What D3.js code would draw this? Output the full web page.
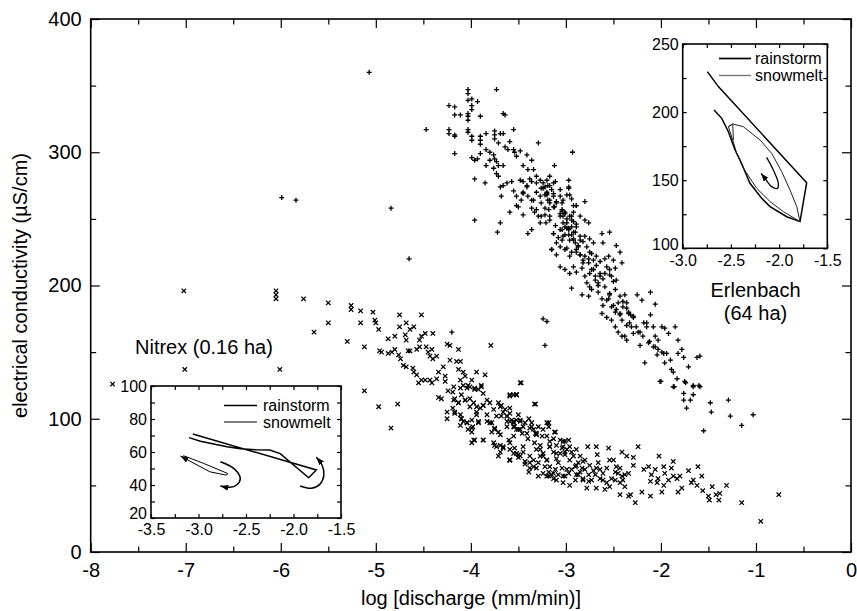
<!DOCTYPE html>
<html>
<head>
<meta charset="utf-8">
<script src="https://cdn.jsdelivr.net/npm/d3@7"></script>
<style>
  body { margin: 0; background: #fff; }
  text { font-family: "Liberation Sans", Arial, Helvetica, sans-serif; fill: #000; }
</style>
</head>
<body>
<svg id="chart" width="857" height="611"></svg>
<script>
// ---- data (log discharge [mm/min], electrical conductivity [uS/cm]) ----

// Erlenbach (64 ha), "+" markers
var erlenbachPts = [
  [-4.03,347],[-4.03,344],[-3.99,340],[-4.03,339],[-3.93,338],[-3.99,335],[-3.99,332],[-3.73,347],[-4.23,335],[-4.17,334],
  [-4.17,328],[-4.11,328],[-4.03,329],[-4.03,327],[-4.03,324],[-3.90,327],[-3.66,329],[-3.64,328],[-4.47,317],[-4.23,317],
  [-4.23,314],[-4.17,313],[-4.17,312],[-4.03,317],[-4.03,315],[-3.99,312],[-3.99,309],[-3.90,312],[-3.90,309],[-3.90,306],
  [-3.84,314],[-3.75,316],[-3.75,313],[-3.69,314],[-3.66,314],[-3.55,317],[-3.75,310],[-3.71,307],[-4.17,299],[-3.99,296],
  [-3.96,294],[-3.93,295],[-3.90,299],[-3.84,302],[-3.80,300],[-3.76,298],[-3.75,295],[-3.73,293],[-3.71,290],[-3.80,294],
  [-3.84,290],[-3.76,288],[-3.73,284],[-3.71,282],[-3.66,290],[-3.64,304],[-3.61,302],[-3.59,308],[-3.55,302],[-3.54,300],
  [-3.52,297],[-3.48,301],[-3.41,298],[-3.36,294],[-3.45,290],[-3.40,287],[-3.34,287],[-3.29,307],[-3.96,280],[-3.85,277],
  [-3.69,274],[-3.66,275],[-3.62,277],[-3.57,278],[-3.68,267],[-3.55,271],[-3.52,267],[-3.48,279],[-3.45,278],[-3.41,275],
  [-3.38,280],[-3.31,277],[-3.27,279],[-3.26,273],[-3.22,274],[-3.19,275],[-3.17,282],[-3.13,277],[-3.12,290],[-3.20,268],
  [-3.17,264],[-3.27,267],[-3.22,268],[-3.34,264],[-3.45,269],[-3.40,267],[-3.52,260],[-3.50,259],[-3.59,255],[-3.45,253],
  [-3.36,258],[-3.31,257],[-3.29,252],[-3.27,247],[-3.21,247],[-3.17,262],[-3.12,259],[-3.06,267],[-3.04,262],[-2.97,279],
  [-2.97,273],[-2.96,268],[-2.92,260],[-2.89,260],[-3.04,256],[-3.03,252],[-2.99,250],[-2.94,252],[-2.92,248],[-2.89,246],
  [-3.01,244],[-2.97,242],[-2.94,238],[-3.03,237],[-3.04,242],[-2.92,234],[-2.87,230],[-3.10,232],[-3.13,239],[-3.36,242],
  [-3.40,239],[-3.69,247],[-3.72,240],[-3.96,249],[-2.93,300],[-4.84,258],[-4.65,220],[-3.15,227],[-3.01,227],[-2.96,222],
  [-2.89,225],
  [-3.24,277],[-3.17,275],[-3.11,278],[-3.20,270],[-3.13,269],[-3.06,272],[-2.99,268],[-2.97,274],[-3.03,264],[-2.94,265],
  [-2.89,260],[-2.80,263],[-3.10,262],[-3.18,257],[-3.22,253],[-3.17,249],[-3.06,254],[-3.01,255],[-2.96,252],[-2.92,255],
  [-2.85,252],[-2.80,249],[-2.76,247],[-3.03,247],[-2.99,243],[-2.94,244],[-2.90,240],[-3.13,239],[-3.08,236],[-3.04,234],
  [-2.97,238],[-2.92,235],[-2.85,234],[-2.80,237],[-2.75,235],[-2.71,232],[-2.62,239],[-2.54,240],[-2.61,232],[-3.15,227],
  [-3.10,223],[-3.06,229],[-2.99,228],[-2.94,225],[-2.89,227],[-2.85,223],[-2.82,219],[-2.76,220],[-2.73,224],[-2.68,222],
  [-2.64,218],[-2.59,220],[-2.55,222],[-2.50,219],[-2.47,230],[-2.43,225],[-2.41,217],[-3.06,214],[-3.01,212],[-2.96,209],
  [-2.92,214],[-2.89,210],[-2.83,213],[-2.80,207],[-2.75,209],[-2.71,212],[-2.69,204],[-2.66,202],[-2.64,207],[-2.59,209],
  [-2.54,212],[-2.52,207],[-2.48,213],[-2.47,204],[-2.78,202],[-2.75,199],[-2.73,197],[-2.83,193],[-2.94,198],[-2.76,192],
  [-2.66,195],[-2.62,190],[-2.61,185],[-2.57,189],[-2.54,193],[-2.52,184],[-2.48,180],[-2.45,187],[-2.43,179],[-2.40,184],
  [-2.36,187],[-2.34,180],[-2.32,178],[-2.29,176],[-2.38,193],[-2.25,193],[-2.20,189],[-2.11,195],[-2.06,186],[-2.62,179],
  [-2.57,176],[-2.52,174],[-2.48,169],[-2.45,165],[-2.41,162],[-2.38,162],[-2.36,159],[-2.31,169],[-2.29,164],[-2.24,165],
  [-2.18,172],[-2.15,172],[-2.11,178],[-2.08,169],[-2.06,162],[-2.22,155],[-2.13,157],[-2.06,154],[-2.03,159],[-1.99,169],
  [-1.96,168],[-1.92,164],[-1.85,169],[-1.82,159],[-2.04,148],[-1.99,150],[-1.94,149],[-1.96,142],[-1.90,144],[-1.89,137],
  [-1.87,135],[-1.82,149],[-1.78,152],[-1.76,146],[-1.71,139],[-1.62,146],[-1.59,147],[-2.17,142],[-2.01,128],[-1.87,124],
  [-1.83,130],[-1.75,128],[-1.66,124],[-1.59,124],[-1.76,119],[-1.76,114],[-1.73,108],[-1.69,114],[-1.66,118],[-1.48,112],
  [-1.47,105],[-1.29,114],[-1.27,102],[-3.24,175],[-3.20,173],[-3.22,155],
  [-2.00,128],[-1.86,124],[-1.74,127],[-1.66,125],[-1.60,125],[-1.15,95],[-1.03,103],[-1.55,91],
  [-5.07,360],[-5.99,266],[-5.84,264],[-4.20,165],
  [-3.31,270],[-3.24,273],[-3.20,269],[-3.15,272],[-3.13,267],[-3.19,264],[-3.26,262],[-3.22,258],[-3.13,259],[-3.10,263],
  [-3.04,257],[-3.01,254],[-3.06,252],[-2.99,247],[-2.94,249],[-2.97,243],[-2.92,240],[-2.89,244],[-2.85,237],[-2.82,233],
  [-2.87,229],[-2.78,229],[-2.75,225],[-2.80,222],[-2.71,219],[-2.68,215],[-2.73,212],[-2.64,209],[-2.61,205],[-2.57,214],
  [-2.54,208],[-2.50,203],[-2.48,197],[-2.54,194],[-2.43,192],[-2.40,188],[-2.36,183],[-2.34,179],[-2.29,177],[-2.33,172],
  [-2.26,169],[-2.22,165],[-2.19,162],[-2.15,169],[-2.12,158],[-2.08,154],[-2.03,152],[-1.97,149],[-3.20,279],[-3.31,282],
  [-3.36,278],[-3.41,274],[-3.45,270],[-3.47,264],[-3.36,264],[-3.33,255],[-3.26,252],[-3.17,252],[-3.11,245],[-3.06,242],
  [-3.01,238],[-2.96,234],[-2.90,232],[-2.85,223],[-2.82,217],[-2.76,217],[-2.69,207],[-2.66,200],[-2.59,199],[-2.55,190],
  [-2.50,185],[-2.47,182],[-2.43,178],[-2.41,174],[-2.36,170]
];

// Nitrex (0.16 ha), "x" markers
var nitrexPts = [
  [-5.76,190],[-5.50,187],[-5.50,172],[-5.65,165],[-5.26,185],[-5.26,182],[-5.16,181],[-5.03,180],[-5.16,172],[-5.01,174],
  [-5.00,172],[-4.97,167],[-4.75,178],[-4.52,178],[-5.30,158],[-5.12,154],[-4.75,169],[-4.68,172],[-4.64,167],[-4.60,169],
  [-4.69,163],[-4.68,159],[-4.87,160],[-4.80,162],[-4.96,151],[-4.94,150],[-4.87,149],[-4.83,150],[-4.80,152],[-4.76,148],
  [-4.74,145],[-4.66,151],[-4.64,151],[-4.57,152],[-4.54,159],[-4.52,162],[-4.48,164],[-4.40,164],[-4.54,154],[-4.47,154],
  [-4.45,150],[-4.43,147],[-4.40,145],[-4.36,147],[-4.41,152],[-4.25,156],[-4.22,155],[-4.13,152],[-3.79,155],[-4.71,140],
  [-4.68,139],[-4.61,138],[-4.60,135],[-4.57,133],[-4.52,129],[-4.55,127],[-4.48,129],[-4.43,129],[-4.41,127],[-4.36,130],
  [-4.34,135],[-4.29,139],[-4.27,132],[-4.27,128],[-4.22,144],[-4.15,143],[-4.11,143],[-4.13,137],[-4.08,135],[-4.06,132],
  [-3.99,129],[-3.94,135],[-3.85,133],[-4.11,129],[-4.08,125],[-4.04,123],[-4.01,124],[-3.96,123],[-3.92,122],[-3.89,125],
  [-3.87,119],[-4.34,116],[-4.31,115],[-4.24,121],[-4.19,120],[-4.17,115],[-4.13,112],[-4.10,118],[-4.06,114],[-4.01,115],
  [-3.97,112],[-3.94,109],[-3.90,108],[-3.87,110],[-3.83,114],[-3.80,112],[-3.76,107],[-4.19,108],[-4.17,105],[-4.25,105],
  [-4.25,100],[-4.11,103],[-4.10,100],[-4.08,98],[-4.04,97],[-3.99,99],[-3.98,94],[-3.94,103],[-3.92,97],[-3.83,98],
  [-3.78,97],[-3.75,93],[-3.73,102],[-3.69,109],[-3.66,105],[-3.62,102],[-3.59,108],[-3.55,118],[-3.52,118],[-3.59,98],
  [-3.55,94],[-3.52,99],[-3.50,92],[-3.71,90],[-3.78,90],[-3.99,90],[-3.96,84],[-3.87,84],[-3.76,82],[-3.73,79],
  [-3.69,80],[-3.66,78],[-3.59,77],[-3.55,74],[-3.50,73],[-3.71,72],[-3.59,69],[-3.99,82],[-5.12,121],[-4.97,109],
  [-4.77,111],[-4.84,93],
  [-3.47,127],[-3.59,117],[-3.52,118],[-3.32,111],[-3.68,110],[-3.64,107],[-3.59,104],[-3.68,102],[-3.62,98],[-3.55,97],
  [-3.50,103],[-3.43,97],[-3.38,93],[-3.48,92],[-3.41,89],[-3.34,92],[-3.31,88],[-3.25,87],[-3.20,97],[-3.18,94],
  [-3.11,90],[-3.06,84],[-3.03,83],[-2.97,84],[-3.66,79],[-3.59,82],[-3.59,69],[-3.52,74],[-3.45,79],[-3.43,68],
  [-3.38,72],[-3.39,60],[-3.34,64],[-3.31,77],[-3.27,80],[-3.24,74],[-3.20,69],[-3.17,79],[-3.13,75],[-3.10,70],
  [-3.06,74],[-3.03,79],[-2.99,77],[-2.94,75],[-2.89,77],[-2.85,72],[-2.82,68],[-2.77,79],[-2.68,79],[-2.67,73],
  [-2.55,78],[-2.41,75],[-2.36,72],[-2.29,71],[-2.24,79],[-2.02,72],[-1.87,68],[-3.24,59],[-3.29,57],[-3.18,57],
  [-3.13,55],[-3.08,58],[-3.03,52],[-2.96,50],[-2.90,54],[-2.85,60],[-2.80,62],[-2.76,58],[-2.73,54],[-2.68,63],
  [-2.64,62],[-2.61,59],[-2.57,63],[-2.54,69],[-2.50,69],[-2.47,64],[-2.45,59],[-2.41,57],[-2.38,58],[-2.34,59],
  [-2.29,65],[-2.78,48],[-2.68,48],[-2.59,47],[-2.54,49],[-2.48,54],[-2.43,52],[-2.38,49],[-2.43,43],[-2.34,42],
  [-2.32,43],[-2.27,37],[-2.20,45],[-2.18,62],[-2.13,64],[-2.10,58],[-2.06,62],[-2.03,55],[-1.97,64],[-1.96,59],
  [-1.92,54],[-1.89,63],[-1.87,57],[-1.83,55],[-1.80,57],[-1.78,48],[-1.82,45],[-1.97,50],[-1.99,45],[-2.11,53],
  [-2.11,42],[-2.04,52],[-1.71,61],[-1.68,52],[-1.66,54],[-1.61,64],[-1.57,57],[-1.56,46],[-1.50,42],[-1.49,39],
  [-1.46,49],[-1.42,43],[-1.38,44],[-1.39,39],[-1.31,50],[-1.15,37],[-0.95,23],[-0.76,43],[-1.62,50],
  [-4.18,124],[-4.11,123],[-4.03,125],[-3.96,122],[-3.89,124],[-4.18,114],[-4.13,112],[-4.06,114],[-4.01,109],[-3.94,105],
  [-3.87,110],[-4.17,104],[-4.10,100],[-4.04,97],[-3.99,93],[-3.92,98],[-3.83,103],[-4.11,95],[-4.03,92],[-3.97,84],
  [-3.87,84],[-3.80,97],[-3.75,92],[-3.69,88],[-3.62,94],[-3.55,98],[-3.48,99],[-3.52,92],[-3.46,89],[-3.40,85],
  [-3.36,94],[-3.31,89],[-3.33,82],[-3.27,77],[-3.24,72],[-3.38,63],[-3.29,67],[-3.20,69],[-3.17,64],[-3.13,59],
  [-3.20,57],[-3.10,54],[-3.03,57],[-2.99,62],[-3.17,79],[-3.10,74],[-3.01,75],[-2.96,69],[-2.89,65],[-2.87,58],
  [-2.82,54],[-3.18,97],[-3.12,90],[-3.01,83],[-3.75,80],[-3.69,75],[-3.59,69],[-3.50,71],[-3.43,66],[-3.71,112],
  [-3.59,118],[-3.52,118],[-3.48,127],[-3.33,111],
  [-3.62,102],[-3.57,99],[-3.54,94],[-3.48,98],[-3.45,94],[-3.39,100],[-3.36,97],[-3.32,89],[-3.29,94],[-3.24,92],
  [-3.20,87],[-3.17,83],[-3.13,85],[-3.10,80],[-3.04,78],[-3.01,73],[-2.96,79],[-2.92,72],[-2.90,64],[-2.87,67],
  [-2.83,63],[-2.80,69],[-2.75,65],[-2.71,61],[-2.69,58],[-2.66,67],[-2.64,55],[-2.61,54],[-2.57,52],[-2.52,55],
  [-2.48,60],[-2.43,63],[-2.40,54],[-3.27,72],[-3.22,64],[-3.18,60],[-3.15,58],[-3.11,62],[-3.08,67],[-3.04,63],
  [-3.01,57],[-2.97,59],[-2.94,62],[-2.89,58],[-2.82,55],[-2.76,53],[-3.38,67],[-3.34,69],[-3.31,63],[-3.48,72],
  [-3.45,75],[-3.54,78],[-3.60,84],[-3.55,87],
  [-7.77,126],[-7.01,137],[-6.01,137],[-7.02,196],[-6.05,196],[-6.05,193],[-6.05,190]
];

// inset hysteresis loops
var nitrexRain = [[-3.06,70.9],[-1.76,49.1],[-1.84,44.4],[-2.14,59.0],[-2.25,61.2],[-2.40,61.3],[-2.56,62.0],
                  [-2.70,63.2],[-2.84,64.8],[-2.98,66.5],[-3.10,68.7]];
var nitrexRainArrow = [[-1.93,39.4],[-1.81,38.0],[-1.72,40.6],[-1.68,46.1],[-1.70,52.1],[-1.76,56.8]];
var nitrexSnow = [[-3.16,57.8],[-2.95,53.2],[-2.69,46.9],[-2.71,46.0],[-2.88,48.0],[-3.12,55.4],[-3.19,57.6]];
var nitrexSnowArrow = [[-2.77,54.1],[-2.63,50.1],[-2.56,44.0],[-2.60,40.0],[-2.67,38.6],[-2.77,39.4]];

var erlenRain = [[-2.744,229.7],[-2.63,218.7],[-1.714,148.2],[-1.783,119.6],[-1.921,123.2],[-2.094,130.6],
                 [-2.181,136.7],[-2.302,147.7],[-2.405,164.8],[-2.457,172.2],[-2.526,185.6],[-2.595,195.4],[-2.675,201.6]];
var erlenSnow = [[-2.474,179.5],[-2.481,191.3],[-2.526,189.3],[-2.481,191.3],[-2.371,189.3],[-2.198,179.5],
                 [-2.077,169.7],[-1.973,156.3],[-1.887,142.8],[-1.817,130.6],[-1.783,119.6],[-1.956,126.9],
                 [-2.094,134.3],[-2.232,144.0],[-2.371,158.8],[-2.44,169.7],[-2.481,179.5],[-2.526,189.3]];
var erlenSnowArrow = [[-2.129,166.8],[-2.06,157.5],[-2.008,147.7],[-2.018,144.0],[-2.077,145.3],[-2.146,151.4],[-2.187,155.0]];

var seriesNames = ["rainstorm", "snowmelt"];

// ---- drawing ----
var svg = d3.select("#chart");

svg.append("defs").append("marker")
    .attr("id", "arrow")
    .attr("markerUnits", "userSpaceOnUse")
    .attr("markerWidth", 10).attr("markerHeight", 8)
    .attr("refX", 8).attr("refY", 3)
    .attr("orient", "auto")
  .append("path")
    .attr("d", "M0,0L8,3L0,6Z")
    .attr("fill", "#000");

var x = d3.scaleLinear().domain([-8, 0]).range([90.7, 851]);
var y = d3.scaleLinear().domain([0, 400]).range([552, 19]);

function ticks(g, axis, vals, len, fmt, pad, fs) {
  g.call(axis.tickValues(vals).tickSize(-len).tickPadding(pad || 0).tickFormat(fmt || ""));
  g.select(".domain").remove();
  g.selectAll("line").attr("stroke", "#000").attr("stroke-width", 1.2);
  g.selectAll("text").style("font-size", (fs || 20) + "px")
    .style("font-family", "'Liberation Sans', Arial, sans-serif").attr("fill", "#000");
}

function frame(xs, ys, xMaj, xMin, yMaj, yMin, lenMaj, lenMin, fmtX, fmtY, padX, padY, fs, inset) {
  var x0 = xs.range()[0], x1 = xs.range()[1], y0 = ys.range()[0], y1 = ys.range()[1];
  var g = svg.append("g");
  g.append("rect").attr("x", x0).attr("y", y1).attr("width", x1 - x0).attr("height", y0 - y1)
    .attr("fill", "#fff").attr("stroke", "none");
  ticks(g.append("g").attr("transform", "translate(0," + y0 + ")"), d3.axisBottom(xs), xMaj, lenMaj, fmtX, padX, fs);
  ticks(g.append("g").attr("transform", "translate(0," + y0 + ")"), d3.axisBottom(xs), xMin, lenMin);
  ticks(g.append("g").attr("transform", "translate(0," + y1 + ")"), d3.axisTop(xs), xMaj, lenMaj);
  ticks(g.append("g").attr("transform", "translate(0," + y1 + ")"), d3.axisTop(xs), xMin, lenMin);
  var ly = g.append("g").attr("transform", "translate(" + x0 + ",0)");
  ticks(ly, d3.axisLeft(ys), yMaj, lenMaj, fmtY, padY, fs);
  if (inset) {
    // lowest label sits just above the corner, as in the original
    ly.selectAll("text").filter(function (d) { return d === yMaj[0]; }).attr("dy", "0.05em");
  }
  ticks(g.append("g").attr("transform", "translate(" + x0 + ",0)"), d3.axisLeft(ys), yMin, lenMin);
  ticks(g.append("g").attr("transform", "translate(" + x1 + ",0)"), d3.axisRight(ys), yMaj, lenMaj);
  ticks(g.append("g").attr("transform", "translate(" + x1 + ",0)"), d3.axisRight(ys), yMin, lenMin);
  g.append("rect").attr("x", x0).attr("y", y1).attr("width", x1 - x0).attr("height", y0 - y1)
    .attr("fill", "none").attr("stroke", "#000").attr("stroke-width", 1.6);
  return g;
}

// main frame
frame(x, y, d3.range(-8, 0.01, 1), d3.range(-7.5, 0, 1), d3.range(0, 401, 100), d3.range(50, 400, 100),
      9, 5.5, function (d) { return String(d); }, function (d) { return String(d); }, 11, 9, 20, false);

// points
var plusPath = "M-2.5,0H2.5M0,-2.5V2.5";
var crossPath = "M-2.2,-2.2L2.2,2.2M-2.2,2.2L2.2,-2.2";

svg.append("g").selectAll("path").data(erlenbachPts).enter().append("path")
    .attr("d", plusPath)
    .attr("transform", function (d) { return "translate(" + x(d[0]) + "," + y(d[1]) + ")"; })
    .attr("stroke", "#000").attr("stroke-width", 1.3).attr("fill", "none");

svg.append("g").selectAll("path").data(nitrexPts).enter().append("path")
    .attr("d", crossPath)
    .attr("transform", function (d) { return "translate(" + x(d[0]) + "," + y(d[1]) + ")"; })
    .attr("stroke", "#000").attr("stroke-width", 1.25).attr("fill", "none");

// axis titles
svg.append("text").attr("x", 471).attr("y", 605).attr("text-anchor", "middle")
    .style("font-size", "20px").text("log [discharge (mm/min)]");
svg.append("text").attr("transform", "translate(27,285.5) rotate(-90)").attr("text-anchor", "middle")
    .style("font-size", "20px").text("electrical conductivity (\u00b5S/cm)");

var fmt1 = function (d) { return d.toFixed(1); };
var fmt0 = function (d) { return String(d); };

// Nitrex inset
var nx = d3.scaleLinear().domain([-3.5, -1.5]).range([151, 341]);
var ny = d3.scaleLinear().domain([20, 100]).range([518, 386]);
frame(nx, ny, d3.range(-3.5, -1.49, 0.5), d3.range(-3.25, -1.5, 0.5), d3.range(20, 101, 20), d3.range(30, 100, 20),
      4, 4, fmt1, fmt0, 6, 4, 16, true);

var nLine = d3.line().x(function (d) { return nx(d[0]); }).y(function (d) { return ny(d[1]); });
var nCurve = d3.line().curve(d3.curveCatmullRom).x(function (d) { return nx(d[0]); }).y(function (d) { return ny(d[1]); });

svg.append("path").attr("d", nLine(nitrexRain)).attr("fill", "none").attr("stroke", "#000").attr("stroke-width", 1.5);
svg.append("path").attr("d", nCurve(nitrexRainArrow)).attr("fill", "none").attr("stroke", "#000")
    .attr("stroke-width", 1.5).attr("marker-end", "url(#arrow)");
svg.append("path").attr("d", nLine(nitrexSnow)).attr("fill", "none").attr("stroke", "#000")
    .attr("stroke-width", 1).attr("marker-end", "url(#arrow)");
svg.append("path").attr("d", nCurve(nitrexSnowArrow)).attr("fill", "none").attr("stroke", "#000")
    .attr("stroke-width", 1.5).attr("marker-end", "url(#arrow)");

// legend (Nitrex)
svg.append("line").attr("x1", 224).attr("x2", 257).attr("y1", 405.5).attr("y2", 405.5)
    .attr("stroke", "#000").attr("stroke-width", 1.7);
svg.append("line").attr("x1", 224).attr("x2", 257).attr("y1", 422).attr("y2", 422)
    .attr("stroke", "#000").attr("stroke-width", 1);
svg.append("text").attr("x", 263).attr("y", 411).style("font-size", "16px").text(seriesNames[0]);
svg.append("text").attr("x", 263).attr("y", 428).style("font-size", "16px").text(seriesNames[1]);

svg.append("text").attr("x", 135).attr("y", 354).style("font-size", "20px").text("Nitrex (0.16 ha)");

// Erlenbach inset
var ex = d3.scaleLinear().domain([-3, -1.5]).range([682.7, 827.3]);
var ey = d3.scaleLinear().domain([100, 250]).range([248.3, 44]);
frame(ex, ey, d3.range(-3, -1.49, 0.5), d3.range(-2.75, -1.5, 0.5), d3.range(100, 251, 50), d3.range(125, 250, 50),
      4, 4, fmt1, fmt0, 6, 4, 16, true);

var eLine = d3.line().x(function (d) { return ex(d[0]); }).y(function (d) { return ey(d[1]); });
var eCurve = d3.line().curve(d3.curveCatmullRom).x(function (d) { return ex(d[0]); }).y(function (d) { return ey(d[1]); });

svg.append("path").attr("d", eLine(erlenRain)).attr("fill", "none").attr("stroke", "#000").attr("stroke-width", 1.5);
svg.append("path").attr("d", eLine(erlenSnow)).attr("fill", "none").attr("stroke", "#222").attr("stroke-width", 1);
svg.append("path").attr("d", eCurve(erlenSnowArrow)).attr("fill", "none").attr("stroke", "#000")
    .attr("stroke-width", 1.3).attr("marker-end", "url(#arrow)");

svg.append("line").attr("x1", 719).attr("x2", 751).attr("y1", 58.5).attr("y2", 58.5)
    .attr("stroke", "#000").attr("stroke-width", 1.7);
svg.append("line").attr("x1", 719).attr("x2", 751).attr("y1", 75.5).attr("y2", 75.5)
    .attr("stroke", "#777").attr("stroke-width", 1.4);
svg.append("text").attr("x", 755).attr("y", 64).style("font-size", "16px").text(seriesNames[0]);
svg.append("text").attr("x", 755).attr("y", 81).style("font-size", "16px").text(seriesNames[1]);

svg.append("text").attr("x", 755.5).attr("y", 297).attr("text-anchor", "middle")
    .style("font-size", "20px").text("Erlenbach");
svg.append("text").attr("x", 755.5).attr("y", 320).attr("text-anchor", "middle")
    .style("font-size", "20px").text("(64 ha)");
</script>
</body>
</html>
